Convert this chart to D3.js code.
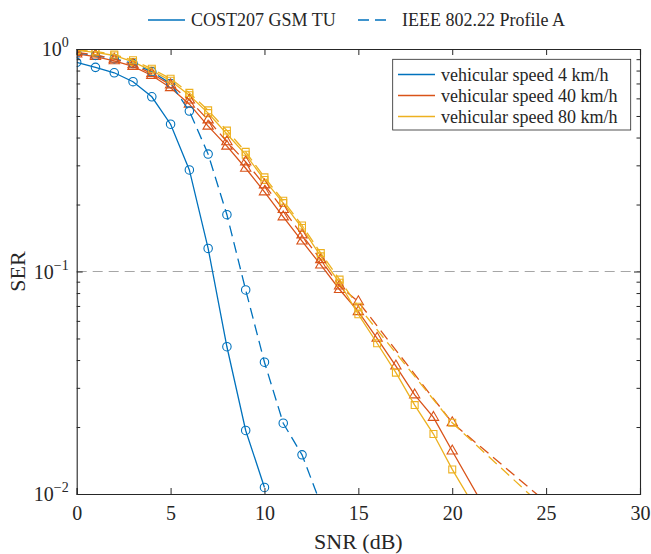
<!DOCTYPE html>
<html>
<head>
<meta charset="utf-8">
<title>SER vs SNR</title>
<script src="https://d3js.org/d3.v7.min.js"></script>
<style>
    body { margin: 0; background: #fff; }
    svg text { font-family: "Liberation Serif", "DejaVu Serif", serif; }
</style>
</head>
<body>
<div id="chart"></div>
<script>
    // axis ticks
    const xTicks = [0, 5, 10, 15, 20, 25, 30];
    const yTicks = [0.01, 0.1, 1];
    const yTickExp = ["\u22122", "\u22121", "0"];

    // COST207 GSM TU (solid)
    const snrCost4 = [0, 1, 2, 3, 4, 5, 6, 7, 8, 9, 10];
    const serCost4 = [0.871, 0.827, 0.782, 0.713, 0.61, 0.459, 0.286, 0.127, 0.0459, 0.0193, 0.0107];
    const snrCost40 = [0, 1, 2, 3, 4, 5, 6, 7, 8, 9, 10, 11, 12, 13, 14, 15, 16, 17, 18, 19, 20, 22];
    const serCost40 = [0.95, 0.925, 0.885, 0.835, 0.76, 0.67, 0.565, 0.45, 0.366, 0.291, 0.228, 0.176, 0.137, 0.107, 0.083,
        0.066, 0.0501, 0.0376, 0.0279, 0.0221, 0.0156, 0.0079];
    const snrCost80 = [0, 1, 2, 3, 4, 5, 6, 7, 8, 9, 10, 11, 12, 13, 14, 15, 16, 17, 18, 19, 20, 21];
    const serCost80 = [0.985, 0.965, 0.935, 0.875, 0.80, 0.72, 0.62, 0.515, 0.415, 0.335, 0.258, 0.203, 0.157, 0.117, 0.089,
        0.0642, 0.0476, 0.0351, 0.0251, 0.0186, 0.0129, 0.0093];

    // IEEE 802.22 Profile A (dashed)
    const snrIeee4 = [0, 1, 2, 3, 4, 5, 6, 7, 8, 9, 10, 11, 12, 13];
    const serIeee4 = [0.96, 0.935, 0.905, 0.86, 0.79, 0.70, 0.526, 0.337, 0.18, 0.0826, 0.0391, 0.0208, 0.015, 0.009];
    const snrIeee40 = [0, 1, 2, 3, 4, 5, 6, 7, 8, 9, 10, 11, 12, 13, 14, 15, 20, 25];
    const serIeee40 = [0.965, 0.94, 0.90, 0.85, 0.775, 0.69, 0.59, 0.48, 0.383, 0.311, 0.245, 0.19, 0.146, 0.113, 0.086,
        0.0731, 0.0209, 0.0092];
    const snrIeee80 = [0, 1, 2, 3, 4, 5, 6, 7, 8, 9, 10, 11, 12, 13, 14, 15, 20, 25];
    const serIeee80 = [0.99, 0.975, 0.945, 0.89, 0.815, 0.735, 0.635, 0.53, 0.43, 0.345, 0.265, 0.208, 0.161, 0.121, 0.092,
        0.0695, 0.0209, 0.0085];

    const speedLabels = ["vehicular speed 4 km/h", "vehicular speed 40 km/h", "vehicular speed 80 km/h"];
    const channelLabels = ["COST207 GSM TU", "IEEE 802.22 Profile A"];

    const colors = ["#0072BD", "#D95319", "#EDB120"];
    const markers = [d3.symbolCircle, d3.symbolTriangle, d3.symbolSquare];
    const markerSize = [56, 46, 48];

    const series = [
        { snr: snrCost4, ser: serCost4, c: 0, dash: null },
        { snr: snrCost40, ser: serCost40, c: 1, dash: null },
        { snr: snrCost80, ser: serCost80, c: 2, dash: null },
        { snr: snrIeee4, ser: serIeee4, c: 0, dash: "11,6" },
        { snr: snrIeee40, ser: serIeee40, c: 1, dash: "11,6" },
        { snr: snrIeee80, ser: serIeee80, c: 2, dash: "11,6" }
    ];

    const W = 651, H = 554;
    const mLeft = 76.7, mRight = 640, mTop = 49, mBottom = 494;
    const axisColor = "#262626";
    const serif = "Liberation Serif, DejaVu Serif, serif";

    const x = d3.scaleLinear().domain([0, 30]).range([mLeft, mRight]);
    const y = d3.scaleLog().domain([0.01, 1]).range([mBottom, mTop]);

    const svg = d3.select("#chart").append("svg")
        .attr("width", W).attr("height", H)
        .attr("font-family", serif);

    svg.append("clipPath").attr("id", "plot-clip")
        .append("rect")
        .attr("x", mLeft).attr("y", mTop)
        .attr("width", mRight - mLeft).attr("height", mBottom - mTop);

    // reference line at 10^-1
    svg.append("line")
        .attr("x1", mLeft).attr("x2", mRight)
        .attr("y1", y(0.1)).attr("y2", y(0.1))
        .attr("stroke", "#a6a6a6").attr("stroke-width", 1)
        .attr("stroke-dasharray", "10,6");

    const plot = svg.append("g").attr("clip-path", "url(#plot-clip)");
    const line = d3.line().x(d => x(d[0])).y(d => y(d[1]));

    series.forEach(s => {
        const pts = s.snr.map((v, i) => [v, s.ser[i]]);
        plot.append("path")
            .datum(pts)
            .attr("d", line)
            .attr("fill", "none")
            .attr("stroke", colors[s.c])
            .attr("stroke-width", 1.3)
            .attr("stroke-dasharray", s.dash);
        plot.append("g").selectAll("path")
            .data(pts.filter(d => d[1] >= 0.01 && d[1] <= 1.02))
            .join("path")
            .attr("transform", d => `translate(${x(d[0])},${y(d[1])})`)
            .attr("d", d3.symbol().type(markers[s.c]).size(markerSize[s.c]))
            .attr("fill", "none")
            .attr("stroke", colors[s.c])
            .attr("stroke-width", 1.1);
    });

    // axes (ticks inward, box on)
    const minor = [];
    [0.01, 0.1].forEach(d => { for (let k = 2; k <= 9; k++) minor.push(d * k); });

    function styleAxis(g) {
        g.attr("font-family", serif);
        g.select(".domain").attr("stroke", axisColor).attr("stroke-width", 1.1);
        g.selectAll(".tick line").attr("stroke", axisColor);
        g.selectAll(".tick text").attr("fill", axisColor);
    }

    svg.append("g").attr("transform", `translate(0,${mBottom})`)
        .call(d3.axisBottom(x).tickValues(xTicks).tickSize(-6).tickPadding(12).tickFormat(d3.format("d")))
        .call(styleAxis)
        .call(g => g.attr("font-size", 20));
    svg.append("g").attr("transform", `translate(0,${mTop})`)
        .call(d3.axisTop(x).tickValues(xTicks).tickSize(-6).tickFormat(""))
        .call(styleAxis);

    [[mLeft, d3.axisLeft], [mRight, d3.axisRight]].forEach(([px, ax]) => {
        svg.append("g").attr("transform", `translate(${px},0)`)
            .call(ax(y).tickValues(yTicks).tickSize(-6).tickFormat(""))
            .call(styleAxis);
        svg.append("g").attr("transform", `translate(${px},0)`)
            .call(ax(y).tickValues(minor).tickSize(-3.5).tickFormat(""))
            .call(g => g.select(".domain").remove())
            .call(styleAxis);
    });

    // y tick labels 10^n
    yTicks.forEach((v, i) => {
        const t = svg.append("text")
            .attr("x", mLeft - 8).attr("y", y(v) + 7)
            .attr("text-anchor", "end")
            .attr("fill", axisColor)
            .attr("font-size", 20);
        t.append("tspan").text("10");
        t.append("tspan").attr("dy", -9).attr("font-size", 14).text(yTickExp[i]);
    });

    // axis labels
    svg.append("text")
        .attr("x", (mLeft + mRight) / 2).attr("y", 549)
        .attr("text-anchor", "middle").attr("fill", axisColor)
        .attr("font-size", 22)
        .text("SNR (dB)");
    svg.append("text")
        .attr("transform", `translate(25,${(mTop + mBottom) / 2}) rotate(-90)`)
        .attr("text-anchor", "middle").attr("fill", axisColor)
        .attr("font-size", 22)
        .text("SER");

    // inner legend (speeds)
    const lg = svg.append("g");
    lg.append("rect")
        .attr("x", 392.7).attr("y", 59.3)
        .attr("width", 238).attr("height", 70.7)
        .attr("fill", "#fff").attr("stroke", axisColor).attr("stroke-width", 0.8);
    speedLabels.forEach((lab, i) => {
        const ly = 74.5 + i * 21;
        lg.append("line")
            .attr("x1", 398).attr("x2", 435).attr("y1", ly).attr("y2", ly)
            .attr("stroke", colors[i]).attr("stroke-width", 1.3);
        lg.append("text")
            .attr("x", 441).attr("y", ly + 6)
            .attr("fill", axisColor).attr("font-size", 18)
            .text(lab);
    });

    // top legend (channel models)
    const tl = svg.append("g");
    [[148, 185, 191, null], [358, 392, 402, "11,6"]].forEach(([x1, x2, tx, dash], i) => {
        tl.append("line")
            .attr("x1", x1).attr("x2", x2).attr("y1", 20).attr("y2", 20)
            .attr("stroke", colors[0]).attr("stroke-width", 1.3)
            .attr("stroke-dasharray", dash);
        tl.append("text")
            .attr("x", tx).attr("y", 26)
            .attr("fill", axisColor).attr("font-size", 18)
            .text(channelLabels[i]);
    });
</script>
</body>
</html>
